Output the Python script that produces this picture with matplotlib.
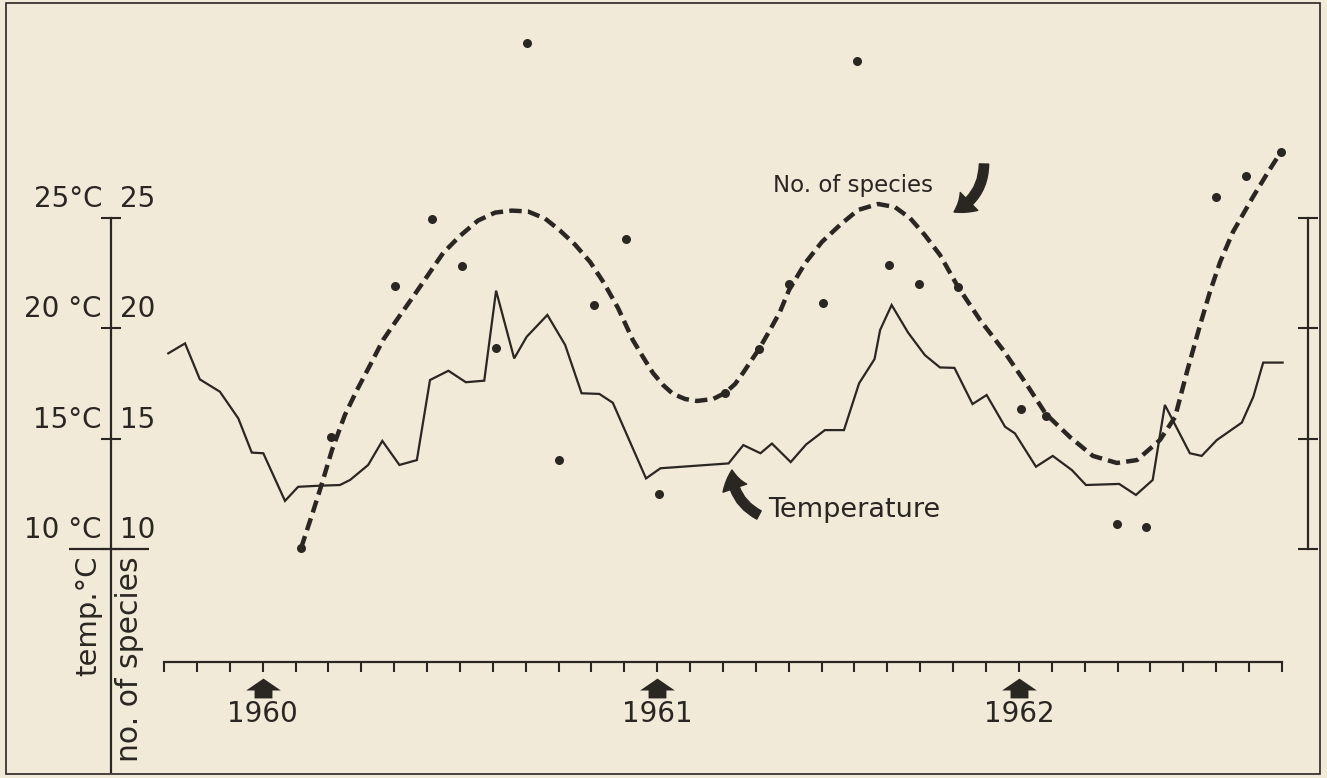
import matplotlib
matplotlib.use("Agg")
import matplotlib.pyplot as plt
from matplotlib.path import Path
from matplotlib.patches import Rectangle

plt.rcParams["font.family"] = ["DejaVu Sans"]

# x = months after the first tick of the time axis, y = °C / no. of species
TEMP_X = [0.13, 0.64, 1.09, 1.70, 2.26, 2.67, 3.02, 3.68, 4.08, 4.74, 5.35, 5.66, 6.21,
          6.64, 7.16, 7.69, 8.09, 8.65, 9.18, 9.74, 10.10, 10.65, 11.03, 11.66, 12.20,
          12.70, 13.24, 13.65, 14.66, 15.10, 17.17, 17.62, 18.14, 18.49, 19.06, 19.53,
          20.10, 20.68, 21.14, 21.61, 21.78, 22.13, 22.63, 23.14, 23.60, 24.04, 24.59,
          25.02, 25.58, 25.88, 26.52, 27.03, 27.61, 28.04, 29.05, 29.56, 30.07, 30.44,
          31.20, 31.56, 32.02, 32.78, 33.13, 33.43, 34.02]
TEMP_C = [18.87, 19.32, 17.69, 17.13, 15.92, 14.37, 14.34, 12.18, 12.82, 12.87, 12.90,
          13.13, 13.81, 14.90, 13.81, 14.03, 17.66, 18.08, 17.56, 17.63, 21.71, 18.64,
          19.62, 20.61, 19.25, 17.06, 17.03, 16.63, 13.20, 13.66, 13.88, 14.71, 14.34,
          14.78, 13.94, 14.74, 15.39, 15.39, 17.51, 18.61, 19.93, 21.06, 19.81, 18.79,
          18.23, 18.21, 16.57, 16.98, 15.54, 15.24, 13.73, 14.22, 13.58, 12.90, 12.95,
          12.45, 13.13, 16.53, 14.34, 14.22, 14.94, 15.73, 16.90, 18.45, 18.45]

SPECIES_X = [4.17, 5.08, 7.03, 8.15, 9.06, 10.09, 11.04, 12.02, 13.09, 14.05, 15.06,
             17.06, 18.10, 19.02, 20.03, 21.08, 22.05, 22.96, 24.14, 26.06, 26.82,
             28.97, 29.87, 32.00, 32.91, 33.97]
SPECIES_N = [10.05, 15.08, 21.92, 24.96, 22.83, 19.09, 32.94, 14.03, 21.06, 24.07, 12.48,
             17.06, 19.05, 22.00, 21.13, 32.12, 22.87, 22.01, 21.86, 16.34, 16.03,
             11.13, 10.98, 25.94, 26.91, 28.01]

# hand-drawn trend through the species counts
TREND_X = [4.17, 4.50, 4.77, 5.11, 5.50, 5.87, 6.27, 6.66, 7.12, 7.57, 8.03, 8.49, 9.00,
           9.55, 10.07, 10.58, 11.07, 11.59, 12.04, 12.50, 12.96, 13.38, 13.81, 14.26,
           14.57, 14.87, 15.18, 15.48, 15.85, 16.21, 16.70, 17.06, 17.37, 17.61, 17.85,
           18.10, 18.43, 18.73, 19.01, 19.50, 20.01, 20.56, 21.11, 21.72, 22.23, 22.69,
           23.14, 23.60, 24.15, 24.82, 25.52, 26.25, 26.82, 27.55, 28.25, 28.98, 29.59,
           30.29, 30.75, 31.11, 31.51, 31.81, 32.12, 32.51, 33.12, 33.58, 33.97]
TREND_N = [10.05, 11.54, 12.81, 14.49, 16.07, 17.21, 18.34, 19.47, 20.47, 21.42, 22.42,
           23.42, 24.19, 24.89, 25.25, 25.34, 25.30, 24.98, 24.44, 23.80, 23.01, 22.06,
           20.92, 19.47, 18.70, 17.98, 17.43, 17.03, 16.80, 16.71, 16.80, 17.07, 17.48,
           17.98, 18.52, 19.07, 19.93, 20.74, 21.74, 22.96, 23.92, 24.69, 25.37, 25.64,
           25.50, 25.00, 24.23, 23.33, 21.88, 20.38, 19.02, 17.43, 16.12, 15.08, 14.22,
           13.90, 14.03, 14.94, 15.98, 18.02, 20.15, 21.65, 23.01, 24.37, 25.96, 27.09,
           28.00]

MONTH_TICKS = list(range(35))
YEAR_TICKS = [3, 15, 26]
YEAR_LABELS = ["1960", "1961", "1962"]
SCALE_TICKS = [10, 15, 20, 25]
TEMP_LABELS = ["10 °C", "15°C", "20 °C", "25°C"]
COUNT_LABELS = ["10", "15", "20", "25"]

PAPER = "#F2EAD8"
INK = "#2A2622"
W, H = 1327, 778
X0_PX, MONTH_PX = 164, 32.88     # pixel of month 0, pixels per month
Y10_PX, UNIT_PX = 549, 22.06     # pixel of value 10, pixels per unit


def px(x):
    return (x - X0_PX) / MONTH_PX


def py(y):
    return 10 + (Y10_PX - y) / UNIT_PX


fig = plt.figure(figsize=(W / 100, H / 100), dpi=100, facecolor=PAPER)
ax = fig.add_axes([0, 0, 1, 1])
ax.set_facecolor(PAPER)
ax.set_xlim(px(0), px(W))
ax.set_ylim(py(H), py(0))

# axes drawn the old-fashioned way
ax.spines["top"].set_visible(False)
ax.spines["bottom"].set_position(("data", py(662)))
ax.spines["bottom"].set_bounds(MONTH_TICKS[0], MONTH_TICKS[-1])
ax.spines["left"].set_position(("data", px(111)))
ax.spines["left"].set_bounds(py(772), SCALE_TICKS[-1])
ax.spines["right"].set_position(("data", px(1308)))
ax.spines["right"].set_bounds(SCALE_TICKS[0], SCALE_TICKS[-1])
for s in ("bottom", "left", "right"):
    ax.spines[s].set_linewidth(1.6)
    ax.spines[s].set_color(INK)
ax.set_xticks(MONTH_TICKS)
ax.set_xticklabels([])
ax.set_yticks(SCALE_TICKS)
ax.set_yticklabels([])
ax.tick_params(axis="x", direction="out", length=7, width=1.5, color=INK)
ax.tick_params(axis="y", direction="inout", length=15, width=1.5, color=INK,
               left=True, right=True)
ax.hlines(SCALE_TICKS[0], px(69), px(149), color=INK, lw=1.6)

for v, tl, cl in zip(SCALE_TICKS, TEMP_LABELS, COUNT_LABELS):
    ax.text(px(102), v + 11 / UNIT_PX, tl, ha="right", va="baseline", fontsize=20, color=INK)
    ax.text(px(120), v + 11 / UNIT_PX, cl, ha="left", va="baseline", fontsize=20, color=INK)
ax.text(px(88), py(556), "temp.°C", rotation=90, ha="center", va="top", fontsize=21, color=INK)
ax.text(px(129), py(556), "no. of species", rotation=90, ha="center", va="top",
        fontsize=21.5, color=INK)

# year markers
house = Path([(0, 10), (17.5, -2), (9, -2), (9, -10), (-9, -10), (-9, -2), (-17.5, -2), (0, 10)],
             [Path.MOVETO] + [Path.LINETO] * 6 + [Path.CLOSEPOLY])
ax.plot(YEAR_TICKS, [py(688)] * len(YEAR_TICKS), ls="none", marker=house, ms=25,
        color=INK, mew=0)
for x, lab in zip(YEAR_TICKS, YEAR_LABELS):
    ax.text(x, py(722), lab, ha="center", va="baseline", fontsize=20, color=INK)

# data
ax.plot(TEMP_X, TEMP_C, color=INK, lw=1.6, solid_joinstyle="miter")
ax.plot(TREND_X, TREND_N, color=INK, lw=3.2, ls=(0, (2.8, 1.4)), dash_capstyle="butt")
ax.plot(SPECIES_X, SPECIES_N, ls="none", marker="o", ms=6.5, color=INK, mew=0)

arrow = dict(arrowstyle="simple,head_length=0.55,head_width=0.75,tail_width=0.28",
             fc=INK, ec=INK, shrinkA=0, shrinkB=0, mutation_scale=24)
ax.annotate("", xy=(px(954), py(212)), xytext=(px(984), py(164)),
            arrowprops=dict(arrow, connectionstyle="arc3,rad=-0.3"))
ax.annotate("", xy=(px(732), py(470)), xytext=(px(759), py(515)),
            arrowprops=dict(arrow, connectionstyle="arc3,rad=-0.3"))
ax.text(px(773), py(192), "No. of species", ha="left", va="baseline", fontsize=16.5, color=INK)
ax.text(px(768), py(517), "Temperature", ha="left", va="baseline", fontsize=19.5, color=INK)

# scanned page frame
fig.add_artist(Rectangle((6 / W, 4 / H), 1314 / W, 771 / H, transform=fig.transFigure,
                         fill=False, ec=INK, lw=1.2))

fig.savefig("out.png", dpi=100, facecolor=PAPER)
